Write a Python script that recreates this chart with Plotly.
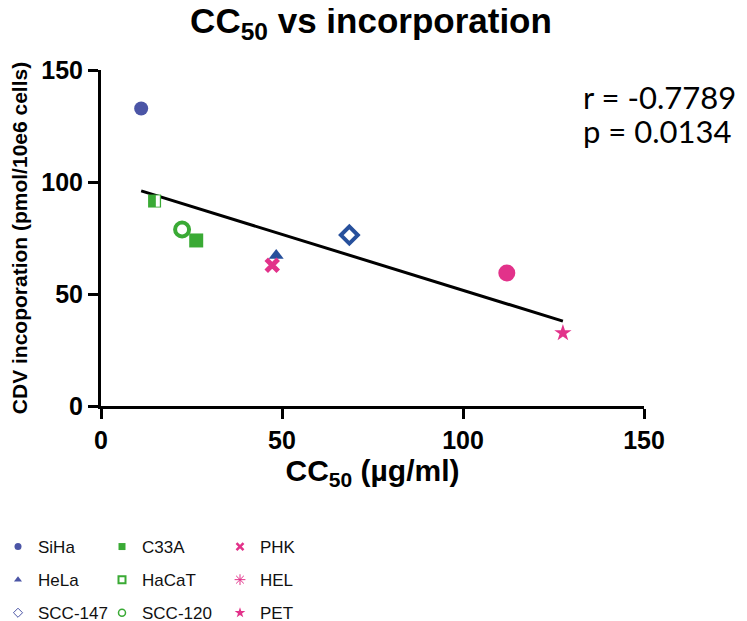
import numpy as np
import plotly.graph_objects as go

cell_lines = ["SiHa", "HeLa", "SCC-147", "C33A", "HaCaT", "SCC-120", "PHK", "HEL", "PET"]
cc50 = [11.1, 48.4, 68.6, 26.3, 14.8, 22.4, 47.3, 112.1, 127.6]
incorporation = [132.8, 67.2, 76.3, 73.9, 91.5, 78.8, 62.8, 59.4, 32.6]
x_ticks = [0, 50, 100, 150]
y_ticks = [0, 50, 100, 150]
r_text = "r = -0.7789"
p_text = "p = 0.0134"

BLUE1 = "#4b55a6"
BLUE2 = "#27509c"
GREEN = "#3aaa35"
MAG = "#e2328a"

styles = {
    "SiHa":    dict(symbol="circle", size=14, color=BLUE1, line=dict(width=0)),
    "HeLa":    dict(symbol="triangle-up", size=13, color=BLUE2, line=dict(width=0)),
    "SCC-147": dict(symbol="diamond", size=13, color="white", line=dict(width=4, color=BLUE2)),
    "C33A":    dict(symbol="square", size=14, color=GREEN, line=dict(width=0)),
    "HaCaT":   dict(symbol="square", size=13, color=GREEN, line=dict(width=0)),
    "SCC-120": dict(symbol="circle-open", size=14, color=GREEN, line=dict(width=4, color=GREEN)),
    "PHK":     dict(symbol="x-thin-open", size=12, color=MAG, line=dict(width=5, color=MAG)),
    "HEL":     dict(symbol="circle", size=17, color=MAG, line=dict(width=0)),
    "PET":     dict(symbol="star", size=13, color=MAG, line=dict(width=0)),
}
leg_styles = {
    "SiHa":    dict(symbol="circle", size=7, color=BLUE1),
    "HeLa":    dict(symbol="triangle-up", size=7, color=BLUE1),
    "SCC-147": dict(symbol="diamond-open", size=7, color=BLUE1, line=dict(width=1, color=BLUE1)),
    "C33A":    dict(symbol="square", size=7, color=GREEN),
    "HaCaT":   dict(symbol="square-open", size=7, color=GREEN, line=dict(width=2, color=GREEN)),
    "SCC-120": dict(symbol="circle-open", size=7, color=GREEN, line=dict(width=1.5, color=GREEN)),
    "PHK":     dict(symbol="x-thin-open", size=7, color=MAG, line=dict(width=2.5, color=MAG)),
    "HEL":     dict(symbol="asterisk-open", size=9, color=MAG, line=dict(width=1, color=MAG)),
    "PET":     dict(symbol="star", size=8, color=MAG),
}
legend_of = {"SiHa": "legend", "HeLa": "legend", "SCC-147": "legend",
             "C33A": "legend2", "HaCaT": "legend2", "SCC-120": "legend2",
             "PHK": "legend3", "HEL": "legend3", "PET": "legend3"}

fig = go.Figure()

slope, intercept = np.polyfit(cc50, incorporation, 1)
xl = np.array([min(cc50), max(cc50)])
fig.add_trace(go.Scatter(x=xl, y=slope * xl + intercept, mode="lines",
                         line=dict(color="black", width=3), showlegend=False,
                         hoverinfo="skip"))

for name, xv, yv in zip(cell_lines, cc50, incorporation):
    fig.add_trace(go.Scatter(x=[xv], y=[yv], mode="markers", marker=styles[name],
                             name=name, showlegend=False, cliponaxis=False))
    if name == "HaCaT":
        fig.add_trace(go.Scatter(x=[xv + 0.9], y=[yv], mode="markers",
                                 marker=dict(symbol="line-ns", size=8,
                                             line=dict(width=4, color="white")),
                                 showlegend=False, hoverinfo="skip"))
for name in cell_lines:
    fig.add_trace(go.Scatter(x=[None], y=[None], mode="markers", marker=leg_styles[name],
                             name=name, legend=legend_of[name], legendgroup=name))

# page body has an 8px margin: figure coordinates = page coordinates - 8
OFF = 8
W, H = 747 - OFF, 621 - OFF
L, T, R, B = 101, 70, 644, 406  # plot area in page pixels
PW, PH = R - L, B - T

def px(p):
    return (p - L) / PW
def py(p):
    return (B - p) / PH

leg_common = dict(orientation="v", yanchor="top", xanchor="left", itemwidth=30,
                  tracegroupgap=8, traceorder="grouped", itemsizing="trace",
                  font=dict(family="Liberation Sans", size=17, color="#111"),
                  bgcolor="rgba(0,0,0,0)")

fig.update_layout(
    width=W, height=H,
    margin=dict(l=L - OFF, r=W - (R - OFF), t=T - OFF, b=H - (B - OFF), autoexpand=False),
    paper_bgcolor="white", plot_bgcolor="white",
    title=dict(text="<b>CC<sub>50</sub> vs incorporation</b>", x=(371 - OFF) / W, xanchor="center",
               y=1.0, yanchor="top", pad=dict(t=0),
               font=dict(family="Liberation Sans", size=35, color="black")),
    xaxis=dict(range=[0, 150], tickvals=x_ticks, showgrid=False, zeroline=False,
               showline=True, linecolor="black", linewidth=3,
               ticks="outside", ticklen=10, tickwidth=3, tickcolor="black",
               tickfont=dict(family="Liberation Sans", size=25, color="black", weight="bold"),
               title=dict(text="<b>CC<sub>50</sub> (µg/ml)</b>", standoff=2,
                          font=dict(family="Liberation Sans", size=30, color="black"))),
    yaxis=dict(range=[0, 150], tickvals=y_ticks, showgrid=False, zeroline=False,
               showline=True, linecolor="black", linewidth=3,
               ticks="outside", ticklen=10, tickwidth=3, tickcolor="black",
               tickfont=dict(family="Liberation Sans", size=25, color="black", weight="bold"),
               title=dict(text="<b>CDV incoporation (pmol/10e6 cells)</b>", standoff=8,
                          font=dict(family="Liberation Sans", size=21, color="black"))),
    legend=dict(x=px(-2), y=py(529), **leg_common),
    legend2=dict(x=px(102), y=py(529), **leg_common),
    legend3=dict(x=px(220), y=py(529), **leg_common),
    annotations=[
        dict(text=r_text, xref="paper", yref="paper", x=px(581), y=py(97),
             xanchor="left", yanchor="middle", showarrow=False,
             font=dict(family="Lato", size=31, color="black")),
        dict(text=p_text, xref="paper", yref="paper", x=px(581), y=py(131),
             xanchor="left", yanchor="middle", showarrow=False,
             font=dict(family="Lato", size=31, color="black")),
    ],
)

fig.write_html("out.html")
